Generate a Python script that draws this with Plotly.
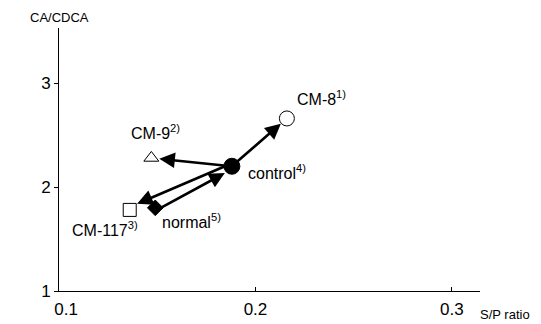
import plotly.graph_objects as go

names = ["CM-8", "CM-9", "CM-117", "control", "normal"]
notes = ["1)", "2)", "3)", "4)", "5)"]
sp_ratio = [0.216, 0.147, 0.136, 0.188, 0.149]
ca_cdca = [2.66, 2.28, 1.78, 2.20, 1.80]
symbols = ["circle-open", "triangle-up-open", "square-open", "circle", "diamond"]
# arrows: (from, to)
arrows = [("control", "CM-8"), ("control", "CM-9"), ("control", "CM-117"), ("normal", "control")]
x_ticks = [0.1, 0.2, 0.3]
x_tick_labels = ["\u00a0\u00a0\u00a00.1", "0.2", "0.3"]
y_ticks = [1, 2, 3]

pt = {n: (x, y) for n, x, y in zip(names, sp_ratio, ca_cdca)}
FAM = "Liberation Sans, Arial, sans-serif"
font = dict(family=FAM, size=16, color="black")
tickfont = dict(family=FAM, size=17, color="black")

fig = go.Figure()
fig.add_trace(go.Scatter(
    x=sp_ratio, y=ca_cdca, mode="markers", opacity=1,
    marker=dict(symbol=symbols, size=[15, 13, 13, 16, 12], color=["black"] * 5, opacity=1,
                line=dict(color="black", width=1)),
    hoverinfo="skip", showlegend=False))

shifts = {("control", "CM-117"): 3, ("normal", "control"): -3}
for a, b in arrows:
    ys = shifts.get((a, b), 0)
    fig.add_annotation(
        x=pt[b][0], y=pt[b][1], ax=pt[a][0], ay=pt[a][1],
        xref="x", yref="y", axref="x", ayref="y",
        showarrow=True, arrowhead=2, arrowsize=1.2, arrowwidth=2.6,
        arrowcolor="black", standoff=8, startstandoff=4, text="", yshift=ys)

label_pos = {
    "CM-8": (0.2200, 2.86),
    "CM-9": (0.1355, 2.53),
    "control": (0.1950, 2.14),
    "CM-117": (0.1055, 1.60),
    "normal": (0.1515, 1.67),
}
for n, note in zip(names, notes):
    lx, ly = label_pos[n]
    fig.add_annotation(x=lx, y=ly, xref="x", yref="y",
                       text=f"{n}<sup style='font-size:11px'>{note}</sup>",
                       showarrow=False, xanchor="left", yanchor="middle", font=font)

fig.add_annotation(x=0, y=1, xref="paper", yref="paper", xanchor="center", yanchor="bottom",
                   text="CA/CDCA", showarrow=False,
                   font=dict(family=FAM, size=13, color="black"), yshift=1)
fig.add_annotation(x=1, y=0, xref="paper", yref="paper", xanchor="left", yanchor="top",
                   text="S/P ratio", showarrow=False,
                   font=dict(family=FAM, size=13, color="black"), xshift=-2, yshift=-14)

fig.update_layout(
    width=541, height=324,
    margin=dict(l=59, r=61, t=28, b=33, autoexpand=False),
    plot_bgcolor="white", paper_bgcolor="white",
    font=font,
    xaxis=dict(range=[0.1, 0.3143], tickvals=x_ticks, ticktext=x_tick_labels,
               showgrid=False, zeroline=False, showline=True, linecolor="black", linewidth=1,
               ticks="inside", ticklen=4, tickcolor="black", tickfont=tickfont,
               ticklabelstandoff=3, automargin=False),
    yaxis=dict(range=[1, 3.53], tickvals=y_ticks, showgrid=False, zeroline=False,
               showline=True, linecolor="black", linewidth=1, automargin=False,
               ticks="outside", ticklen=4, tickcolor="black", tickfont=tickfont),
)
fig.write_html("out.html", config={"displayModeBar": False},
               post_script="document.body.style.margin='0';")
